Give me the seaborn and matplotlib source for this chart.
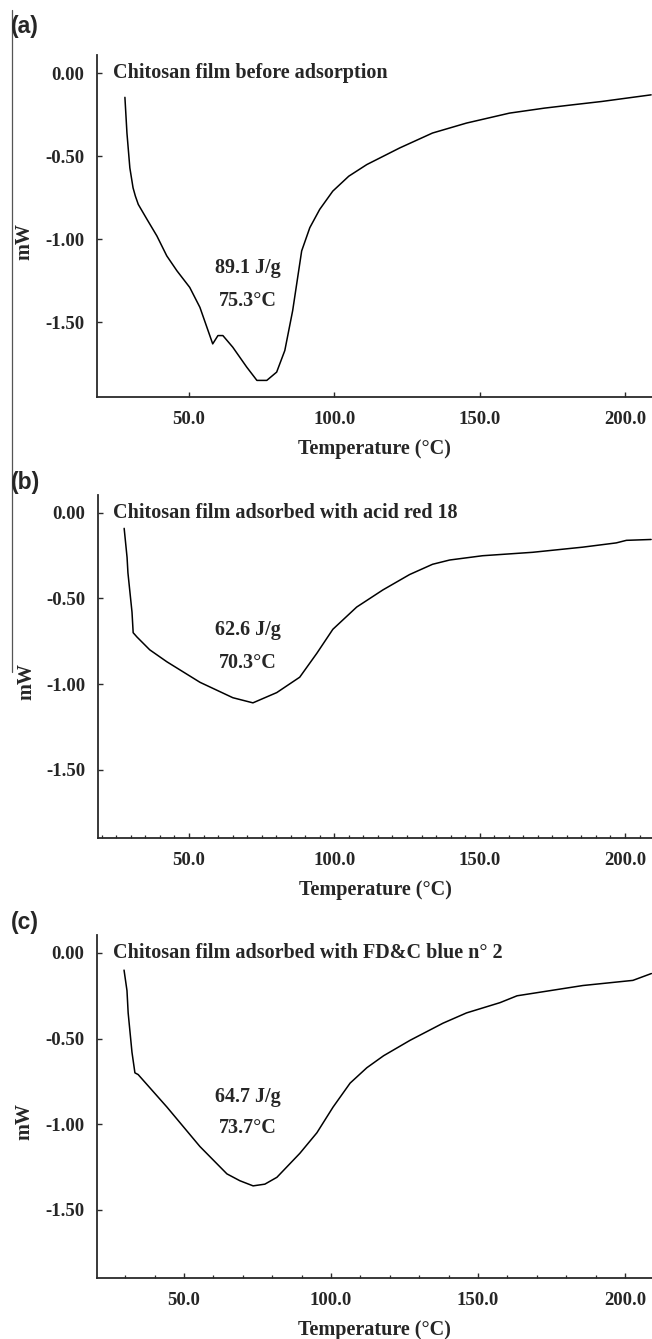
import matplotlib
matplotlib.use("Agg")
import matplotlib.pyplot as plt
import seaborn as sns
import pandas as pd
from matplotlib.ticker import MultipleLocator, FixedLocator, StrMethodFormatter
from matplotlib.lines import Line2D

# ---------------- data ----------------
T_a = [28.0, 28.7, 29.7, 30.8, 31.6, 32.6, 35.6, 39.0, 42.4, 45.9, 50.3, 53.8, 56.2, 58.2, 60.0, 61.7,
       65.1, 69.9, 73.4, 76.8, 80.2, 83.0, 85.7, 88.8, 91.6, 95.0, 99.5, 105.0, 111.2, 122.5,
       133.8, 145.5, 160.3, 172.3, 182.0, 192.0, 202.6, 209.0]
mW_a = [-0.145, -0.36, -0.57, -0.69, -0.74, -0.79, -0.88, -0.98, -1.10, -1.19, -1.29, -1.41, -1.53, -1.63,
        -1.58, -1.58, -1.65, -1.77, -1.85, -1.85, -1.80, -1.67, -1.43, -1.07, -0.93, -0.82, -0.71,
        -0.62, -0.55, -0.45, -0.36, -0.30, -0.24, -0.21, -0.19, -0.17, -0.145, -0.13]

T_b = [27.7, 28.7, 29.0, 30.4, 30.8, 32.1, 36.5, 42.4, 53.8, 65.1, 72.0, 80.2, 88.1, 94.0, 99.5,
       107.7, 116.7, 125.9, 133.8, 139.7, 151.0, 168.2, 185.4, 197.0, 200.5, 209.0]
mW_b = [-0.09, -0.26, -0.35, -0.58, -0.70, -0.725, -0.80, -0.87, -0.99, -1.08, -1.11, -1.05, -0.96,
        -0.82, -0.68, -0.55, -0.45, -0.36, -0.30, -0.275, -0.25, -0.23, -0.20, -0.175, -0.16, -0.155]

T_c = [29.6, 30.6, 31.0, 32.3, 33.3, 34.4, 44.2, 55.4, 64.6, 69.0, 73.5, 77.5, 81.6, 89.4, 95.2,
       100.7, 106.5, 112.2, 117.9, 126.9, 138.1, 146.1, 157.5, 163.3, 174.5, 185.7, 202.7, 209.0]
mW_c = [-0.10, -0.22, -0.35, -0.58, -0.70, -0.71, -0.90, -1.13, -1.29, -1.33, -1.36, -1.35, -1.31,
        -1.17, -1.05, -0.90, -0.76, -0.67, -0.60, -0.51, -0.41, -0.35, -0.29, -0.25, -0.22, -0.19,
        -0.16, -0.12]

panel_letters = ["(a)", "(b)", "(c)"]
titles = ["Chitosan film before adsorption",
          "Chitosan film adsorbed with acid red 18",
          "Chitosan film adsorbed with FD&C blue n\u00b0 2"]
enthalpy = ["89.1 J/g", "62.6 J/g", "64.7 J/g"]
peak_temp = ["75.3\u00b0C", "70.3\u00b0C", "73.7\u00b0C"]
y_ticks = [0.0, -0.5, -1.0, -1.5]
x_ticks = [50.0, 100.0, 150.0, 200.0]
x_label = "Temperature (\u00b0C)"
y_label = "mW"

# ---------------- style ----------------
sns.set_style("ticks")
plt.rcParams["font.family"] = ["Liberation Serif", "DejaVu Serif"]
plt.rcParams["font.weight"] = "bold"
plt.rcParams["axes.unicode_minus"] = False

fig = plt.figure(figsize=(6.52, 13.39), dpi=100)
W, H = 652.0, 1339.0

def fx(px):
    return px / W

def fy(py):
    return 1 - py / H

# axes boxes in pixels: left, top, bottom
boxes = [(97, 55, 397), (98, 495, 838), (97, 935, 1278)]
xlims = [(18.4, 209.3), (18.7, 209.3), (20.4, 209.2)]
ylims = [(-1.95, 0.11), (-1.90, 0.105), (-1.898, 0.105)]
minor = [None, 5, 10]
letter_y = [26, 482, 923]
title_x = [23.9, 23.9, 25.9]
ann_x = [70.3, 70.3, 71.8]
ann_y = [(-1.175, -1.37), (-0.684, -0.877), (-0.84, -1.02)]

datasets = [pd.DataFrame({"T": T_a, "mW": mW_a}),
            pd.DataFrame({"T": T_b, "mW": mW_b}),
            pd.DataFrame({"T": T_c, "mW": mW_c})]

spine_color = "#2a2a2a"
for i, (l, t, b) in enumerate(boxes):
    ax = fig.add_axes([fx(l), fy(b), 1 - fx(l), (b - t) / H])
    sns.lineplot(data=datasets[i], x="T", y="mW", ax=ax, color="black", linewidth=1.1,
                 estimator=None, sort=False)
    ax.set_xlim(*xlims[i])
    ax.set_ylim(*ylims[i])
    for s in ["top", "right"]:
        ax.spines[s].set_visible(False)
    for s in ["left", "bottom"]:
        ax.spines[s].set_linewidth(1.3)
        ax.spines[s].set_color(spine_color)
    ax.xaxis.set_major_locator(FixedLocator(x_ticks))
    ax.yaxis.set_major_locator(FixedLocator(y_ticks))
    ax.xaxis.set_major_formatter(StrMethodFormatter("{x:.1f}"))
    ax.yaxis.set_major_formatter(StrMethodFormatter("{x:.2f}"))
    if minor[i]:
        ax.xaxis.set_minor_locator(MultipleLocator(minor[i]))
    ax.tick_params(axis="both", which="major", direction="in", length=3.5, width=1.0,
                   color=spine_color, labelsize=13.5)
    ax.tick_params(axis="x", which="major", pad=10)
    ax.tick_params(axis="y", which="major", pad=9)
    ax.tick_params(axis="x", which="minor", direction="in", length=2.2, width=0.9,
                   color=spine_color)
    for lab in ax.get_xticklabels() + ax.get_yticklabels():
        lab.set_fontweight("bold")
    ax.set_xlabel(x_label, fontsize=14.5, fontweight="bold", labelpad=8)
    ax.set_ylabel(y_label, fontsize=14.5, fontweight="bold")
    ax.yaxis.set_label_coords(-0.112, 0.455)
    ax.text(title_x[i], 0.0, titles[i], fontsize=14.5, fontweight="bold",
            ha="left", va="center")
    ax.text(ann_x[i], ann_y[i][0], enthalpy[i], fontsize=14.5, fontweight="bold",
            ha="center", va="center")
    ax.text(ann_x[i], ann_y[i][1], peak_temp[i], fontsize=14.5, fontweight="bold",
            ha="center", va="center")
    fig.text(fx(11), fy(letter_y[i]), panel_letters[i], fontsize=16.5,
             family=["Liberation Sans", "DejaVu Sans"], fontweight="bold",
             ha="left", va="center")

# thin vertical rule at the far left of the original figure
fig.add_artist(Line2D([fx(12), fx(12)], [fy(10), fy(672)], color="#555555", linewidth=0.9))

fig.savefig("out.png", dpi=100, facecolor="white")
